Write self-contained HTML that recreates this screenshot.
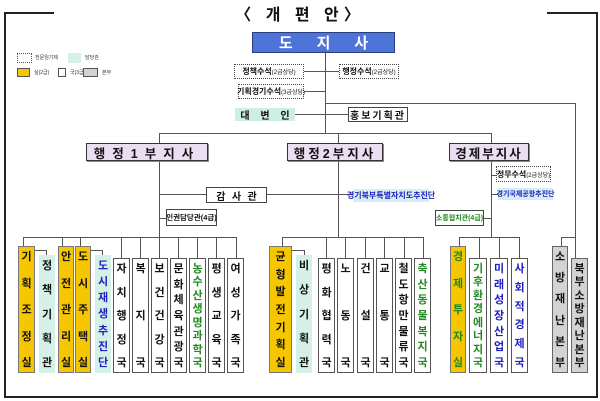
<!DOCTYPE html>
<html><head><meta charset="utf-8"><style>
body{margin:0;width:600px;height:401px;background:#fff;position:relative;overflow:hidden;font-family:"Liberation Sans","Noto Sans CJK KR",sans-serif;}
div{position:absolute;box-sizing:border-box}
.h{height:1px;background:#555}
.l{width:1px;background:#555}
.f{background:#222}
.bx{border:1px solid #444;background:#fff;font-weight:bold;display:flex;align-items:center;justify-content:center;white-space:nowrap;color:#111}
.dt{border:1px dotted #444;background:#fff;font-weight:bold;display:flex;align-items:center;justify-content:center;white-space:nowrap;font-size:8px;color:#111}
.dt small{font-size:6px;font-weight:normal}
.vp{border:1px solid #333;background:#e9dff0;font-weight:bold;font-size:12.5px;display:flex;align-items:center;justify-content:center;color:#111;box-shadow:1px 1px 0 #888;white-space:nowrap}
.v{border:1px solid #555;background:#fff;font-weight:bold;font-size:11px;display:flex;flex-direction:column;align-items:center;justify-content:space-between;padding:4px 0 3px;line-height:12px;color:#111}
.v span{display:block}
.y{background:#f6c600;border-color:#777}
.m{background:#d5f0e6;border-color:#d5f0e6}
.g{background:#d3d3d3;border-color:#666}
.bl{color:#2020c0}
.gr{color:#208a20}
</style></head><body>
<!-- frame -->
<div class="f" style="left:4px;top:12px;width:50px;height:2px"></div>
<div class="f" style="left:547px;top:12px;width:51px;height:2px"></div>
<div class="f" style="left:4px;top:12px;width:2px;height:386px"></div>
<div class="f" style="left:596px;top:12px;width:2px;height:386px"></div>
<div class="f" style="left:4px;top:396px;width:594px;height:2px"></div>
<div style="left:220px;top:1px;width:160px;text-align:center;font-size:16px;font-weight:bold;letter-spacing:5px;color:#111;white-space:nowrap">〈 개 편 안〉</div>

<!-- legend -->
<div style="left:17px;top:53px;width:15px;height:10px;border:1px dotted #555"></div>
<div style="left:35px;top:54px;font-size:5px;color:#333">전문임기제</div>
<div style="left:68px;top:53px;width:13px;height:10px;background:#d5f0e6"></div>
<div style="left:85px;top:54px;font-size:5px;color:#333">담당관</div>
<div style="left:17px;top:68px;width:13px;height:9px;background:#f6c600;border:1px solid #555"></div>
<div style="left:34px;top:69px;font-size:5px;color:#333">실(2급)</div>
<div style="left:58px;top:68px;width:8px;height:9px;border:1px solid #555"></div>
<div style="left:70px;top:69px;font-size:5px;color:#333">국(3급)</div>
<div style="left:83px;top:68px;width:15px;height:9px;background:#d3d3d3;border:1px solid #555"></div>
<div style="left:102px;top:69px;font-size:5px;color:#333">본부</div>

<!-- governor -->
<div style="left:252px;top:32px;width:143px;height:21px;background:#4f74d8;border:1px solid #2a3f80;color:#fff;font-weight:bold;font-size:15px;display:flex;justify-content:space-around;align-items:center;padding:0 14px"><span>도</span><span>지</span><span>사</span></div>
<div class="l" style="left:325px;top:53px;height:80px"></div>
<div class="dt" style="left:234px;top:64px;width:70px;height:15px">정책수석<small>(2급상당)</small></div>
<div class="h" style="left:304px;top:71px;width:35px"></div>
<div class="dt" style="left:339px;top:64px;width:60px;height:15px">행정수석<small>(2급상당)</small></div>
<div class="dt" style="left:238px;top:84px;width:66px;height:15px">기획경기수석<small>(3급상당)</small></div>
<div class="h" style="left:304px;top:91px;width:21px"></div>
<div class="h" style="left:325px;top:103px;width:251px"></div>
<div class="l" style="left:575px;top:103px;height:134px"></div>
<div style="left:235px;top:108px;width:60px;height:13px;background:#cdeee2;font-weight:bold;font-size:10px;display:flex;justify-content:space-around;align-items:center;color:#111"><span>대</span><span>변</span><span>인</span></div>
<div class="h" style="left:295px;top:114px;width:53px"></div>
<div class="bx" style="left:348px;top:107px;width:60px;height:15px;font-size:10px;letter-spacing:2px">홍보기획관</div>

<!-- vice governors -->
<div class="h" style="left:159px;top:133px;width:333px"></div>
<div class="l" style="left:159px;top:133px;height:104px"></div>
<div class="l" style="left:338px;top:133px;height:104px"></div>
<div class="l" style="left:491px;top:133px;height:104px"></div>
<div class="vp" style="left:86px;top:143px;width:122px;height:18px;letter-spacing:7px">행정1부지사</div>
<div class="vp" style="left:287px;top:143px;width:96px;height:18px;letter-spacing:3px">행정2부지사</div>
<div class="vp" style="left:449px;top:143px;width:80px;height:18px;letter-spacing:2px">경제부지사</div>

<div class="h" style="left:159px;top:194px;width:47px"></div>
<div class="bx" style="left:206px;top:187px;width:61px;height:16px;font-size:10px;justify-content:space-around;padding:0 6px"><span>감</span><span>사</span><span>관</span></div>
<div class="h" style="left:267px;top:194px;width:86px"></div>
<div style="left:353px;top:189px;width:76px;height:13px;background:#d5eef4;color:#2020c0;font-size:8px;font-weight:bold;display:flex;align-items:center;justify-content:center;white-space:nowrap">경기북부특별자치도추진단</div>
<div class="h" style="left:159px;top:218px;width:7px"></div>
<div class="bx" style="left:166px;top:209px;width:51px;height:17px;font-size:7.5px">인권담당관(4급)</div>

<div class="h" style="left:491px;top:175px;width:5px"></div>
<div class="dt" style="left:496px;top:166px;width:55px;height:16px">정무수석<small>(2급상당)</small></div>
<div class="h" style="left:491px;top:194px;width:7px"></div>
<div style="left:498px;top:188px;width:55px;height:12px;background:#d5eef4;color:#2020c0;font-size:7px;font-weight:bold;display:flex;align-items:center;justify-content:center;white-space:nowrap">경기국제공항추진단</div>
<div class="h" style="left:484px;top:218px;width:7px"></div>
<div class="bx" style="left:435px;top:210px;width:49px;height:16px;font-size:7px;color:#208a20">소통협치관(4급)</div>

<!-- bottom connectors -->
<div class="h" style="left:23px;top:237px;width:214px"></div>
<div class="h" style="left:282px;top:237px;width:142px"></div>
<div class="h" style="left:459px;top:237px;width:61px"></div>
<div class="h" style="left:561px;top:237px;width:15px"></div>
<div class="l" style="left:23px;top:237px;height:9px"></div>
<div class="l" style="left:62px;top:237px;height:9px"></div>
<div class="l" style="left:80px;top:237px;height:9px"></div>
<div class="l" style="left:121px;top:237px;height:21px"></div>
<div class="l" style="left:140px;top:237px;height:21px"></div>
<div class="l" style="left:159px;top:237px;height:21px"></div>
<div class="l" style="left:178px;top:237px;height:21px"></div>
<div class="l" style="left:197px;top:237px;height:21px"></div>
<div class="l" style="left:216px;top:237px;height:21px"></div>
<div class="l" style="left:236px;top:237px;height:21px"></div>
<div class="l" style="left:282px;top:237px;height:9px"></div>
<div class="l" style="left:326px;top:237px;height:21px"></div>
<div class="l" style="left:345px;top:237px;height:21px"></div>
<div class="l" style="left:365px;top:237px;height:21px"></div>
<div class="l" style="left:384px;top:237px;height:21px"></div>
<div class="l" style="left:404px;top:237px;height:21px"></div>
<div class="l" style="left:423px;top:237px;height:21px"></div>
<div class="l" style="left:459px;top:237px;height:9px"></div>
<div class="l" style="left:479px;top:237px;height:21px"></div>
<div class="l" style="left:499px;top:237px;height:21px"></div>
<div class="l" style="left:519px;top:237px;height:21px"></div>
<div class="l" style="left:561px;top:237px;height:9px"></div>
<div class="l" style="left:575px;top:237px;height:21px"></div>
<!-- brackets -->
<div class="h" style="left:35px;top:250px;width:11px"></div><div class="l" style="left:46px;top:250px;height:5px"></div>
<div class="h" style="left:91px;top:250px;width:11px"></div><div class="l" style="left:102px;top:250px;height:5px"></div>
<div class="h" style="left:292px;top:250px;width:12px"></div><div class="l" style="left:304px;top:250px;height:5px"></div>

<!-- group 1 -->
<div class="v y" style="left:18px;top:246px;width:17px;height:127px"><span>기</span><span>획</span><span>조</span><span>정</span><span>실</span></div>
<div class="v m" style="left:39px;top:255px;width:16px;height:118px"><span>정</span><span>책</span><span>기</span><span>획</span><span>관</span></div>
<div class="v y" style="left:58px;top:246px;width:16px;height:127px"><span>안</span><span>전</span><span>관</span><span>리</span><span>실</span></div>
<div class="v y" style="left:75px;top:246px;width:16px;height:127px"><span>도</span><span>시</span><span>주</span><span>택</span><span>실</span></div>
<div class="v m bl" style="left:95px;top:255px;width:16px;height:118px"><span>도</span><span>시</span><span>재</span><span>생</span><span>추</span><span>진</span><span>단</span></div>
<div class="v" style="left:113px;top:258px;width:17px;height:115px"><span>자</span><span>치</span><span>행</span><span>정</span><span>국</span></div>
<div class="v" style="left:132px;top:258px;width:17px;height:115px"><span>복</span><span>지</span><span>국</span></div>
<div class="v" style="left:151px;top:258px;width:17px;height:115px"><span>보</span><span>건</span><span>건</span><span>강</span><span>국</span></div>
<div class="v" style="left:170px;top:258px;width:17px;height:115px"><span>문</span><span>화</span><span>체</span><span>육</span><span>관</span><span>광</span><span>국</span></div>
<div class="v gr" style="left:189px;top:258px;width:17px;height:115px"><span>농</span><span>수</span><span>산</span><span>생</span><span>명</span><span>과</span><span>학</span><span>국</span></div>
<div class="v" style="left:208px;top:258px;width:17px;height:115px"><span>평</span><span>생</span><span>교</span><span>육</span><span>국</span></div>
<div class="v" style="left:227px;top:258px;width:17px;height:115px"><span>여</span><span>성</span><span>가</span><span>족</span><span>국</span></div>

<!-- group 2 -->
<div class="v y" style="left:269px;top:246px;width:23px;height:127px"><span>균</span><span>형</span><span>발</span><span>전</span><span>기</span><span>획</span><span>실</span></div>
<div class="v m" style="left:296px;top:255px;width:16px;height:118px"><span>비</span><span>상</span><span>기</span><span>획</span><span>관</span></div>
<div class="v" style="left:318px;top:258px;width:17px;height:115px"><span>평</span><span>화</span><span>협</span><span>력</span><span>국</span></div>
<div class="v" style="left:337px;top:258px;width:17px;height:115px"><span>노</span><span>동</span><span>국</span></div>
<div class="v" style="left:357px;top:258px;width:17px;height:115px"><span>건</span><span>설</span><span>국</span></div>
<div class="v" style="left:376px;top:258px;width:17px;height:115px"><span>교</span><span>통</span><span>국</span></div>
<div class="v" style="left:395px;top:258px;width:17px;height:115px"><span>철</span><span>도</span><span>항</span><span>만</span><span>물</span><span>류</span><span>국</span></div>
<div class="v gr" style="left:414px;top:258px;width:17px;height:115px"><span>축</span><span>산</span><span>동</span><span>물</span><span>복</span><span>지</span><span>국</span></div>

<!-- group 3 -->
<div class="v y" style="left:450px;top:246px;width:16px;height:127px;color:#208a20"><span>경</span><span>제</span><span>투</span><span>자</span><span>실</span></div>
<div class="v gr" style="left:469px;top:258px;width:18px;height:115px"><span>기</span><span>후</span><span>환</span><span>경</span><span>에</span><span>너</span><span>지</span><span>국</span></div>
<div class="v bl" style="left:490px;top:258px;width:18px;height:115px"><span>미</span><span>래</span><span>성</span><span>장</span><span>산</span><span>업</span><span>국</span></div>
<div class="v bl" style="left:511px;top:258px;width:17px;height:115px"><span>사</span><span>회</span><span>적</span><span>경</span><span>제</span><span>국</span></div>

<!-- group 4 -->
<div class="v g" style="left:552px;top:246px;width:16px;height:127px"><span>소</span><span>방</span><span>재</span><span>난</span><span>본</span><span>부</span></div>
<div class="v g" style="left:571px;top:258px;width:17px;height:115px"><span>북</span><span>부</span><span>소</span><span>방</span><span>재</span><span>난</span><span>본</span><span>부</span></div>
</body></html>
